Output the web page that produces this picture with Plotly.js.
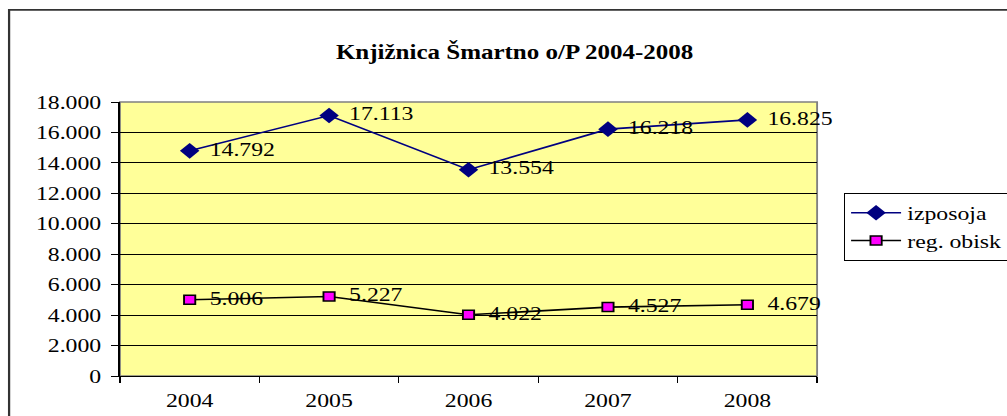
<!DOCTYPE html>
<html>
<head>
<meta charset="utf-8">
<script src="https://cdn.plot.ly/plotly-3.0.1.min.js"></script>
<style>
  html, body { margin: 0; padding: 0; background: #ffffff; overflow: hidden; }
  #chart { width: 806px; height: 416px; transform: scaleX(1.2494); transform-origin: 0 0; }
</style>
</head>
<body>
<div id="chart"></div>
<script>
// ---- data ----
const years = ['2004', '2005', '2006', '2007', '2008'];
const izposoja = [14792, 17113, 13554, 16218, 16825];
const regObisk = [5006, 5227, 4022, 4527, 4679];
const seriesNames = ['izposoja', 'reg. obisk'];
const chartTitle = 'Knjižnica Šmartno o/P 2004-2008';

function fmt(v) { return String(v).replace(/\B(?=(\d{3})+(?!\d))/g, '.'); }

const serif = 'Liberation Serif';

function labelTrace(vals) {
  return {
    x: years, y: vals, type: 'scatter', mode: 'markers+text', showlegend: false,
    marker: { size: 24, opacity: 0, color: 'rgba(0,0,0,0)' },
    text: vals.map(fmt), textposition: 'middle right',
    textfont: { family: serif, size: 19, color: '#000000' },
    cliponaxis: false, hoverinfo: 'none'
  };
}

const traces = [
  {
    x: years, y: izposoja, name: seriesNames[0], type: 'scatter', mode: 'lines+markers',
    line: { color: '#000080', width: 1.6 },
    marker: { symbol: 'diamond', size: 12, color: '#000080' },
    cliponaxis: false, hoverinfo: 'none'
  },
  {
    x: years, y: regObisk, name: seriesNames[1], type: 'scatter', mode: 'lines+markers',
    line: { color: '#000000', width: 1.6 },
    marker: { symbol: 'square', size: 9, color: '#FF00FF', line: { color: '#000000', width: 1.5 } },
    cliponaxis: false, hoverinfo: 'none'
  },
  labelTrace(izposoja),
  labelTrace(regObisk)
];

const layout = {
  width: 806, height: 416,
  margin: { l: 96, r: 151.6, t: 102, b: 40, pad: 0, autoexpand: false },
  paper_bgcolor: '#ffffff',
  plot_bgcolor: '#FFFF99',
  separators: ',.',
  font: { family: serif, size: 19, color: '#000000' },
  title: {
    text: chartTitle,
    font: { family: serif, size: 20, weight: 'bold', color: '#000000' },
    x: 0.511, xanchor: 'center', xref: 'container',
    y: 0.875, yanchor: 'middle', yref: 'container'
  },
  xaxis: {
    type: 'category', tickson: 'boundaries', range: [-0.5, 4.5], autorange: false,
    ticks: 'outside', ticklen: 6, tickcolor: '#000000', tickwidth: 1,
    showline: true, linecolor: '#000000', linewidth: 1.2,
    showgrid: false, zeroline: false,
    tickfont: { family: serif, size: 19, color: '#000000' },
    ticklabelstandoff: 7,
    fixedrange: true
  },
  yaxis: {
    range: [0, 18000], autorange: false, dtick: 2000, tick0: 0, tickformat: ',d',
    ticks: 'outside', ticklen: 6, tickcolor: '#000000', tickwidth: 1,
    showline: true, linecolor: '#000000', linewidth: 1.2,
    showgrid: true, gridcolor: '#000000', gridwidth: 1,
    zeroline: false,
    tickfont: { family: serif, size: 19, color: '#000000' },
    ticklabelstandoff: 4,
    fixedrange: true
  },
  legend: {
    x: 1.038, xanchor: 'left', y: 0.668, yanchor: 'top',
    bgcolor: '#ffffff', bordercolor: '#000000', borderwidth: 1,
    font: { family: serif, size: 19, color: '#000000' },
    itemwidth: 40,
    tracegroupgap: 0, itemclick: false, itemdoubleclick: false
  },
  showlegend: true,
  shapes: [
    { type: 'rect', xref: 'paper', yref: 'paper', x0: 0, x1: 1, y0: 0, y1: 1,
      line: { color: '#808080', width: 1.5 }, layer: 'below' },
    { type: 'rect', xref: 'paper', yref: 'paper', x0: -0.159, x1: 3, y0: -3, y1: 1.336,
      line: { color: '#333333', width: 1.8 }, fillcolor: 'rgba(0,0,0,0)', layer: 'above' }
  ]
};

Plotly.newPlot('chart', traces, layout, { displayModeBar: false, staticPlot: true });
</script>
</body>
</html>
